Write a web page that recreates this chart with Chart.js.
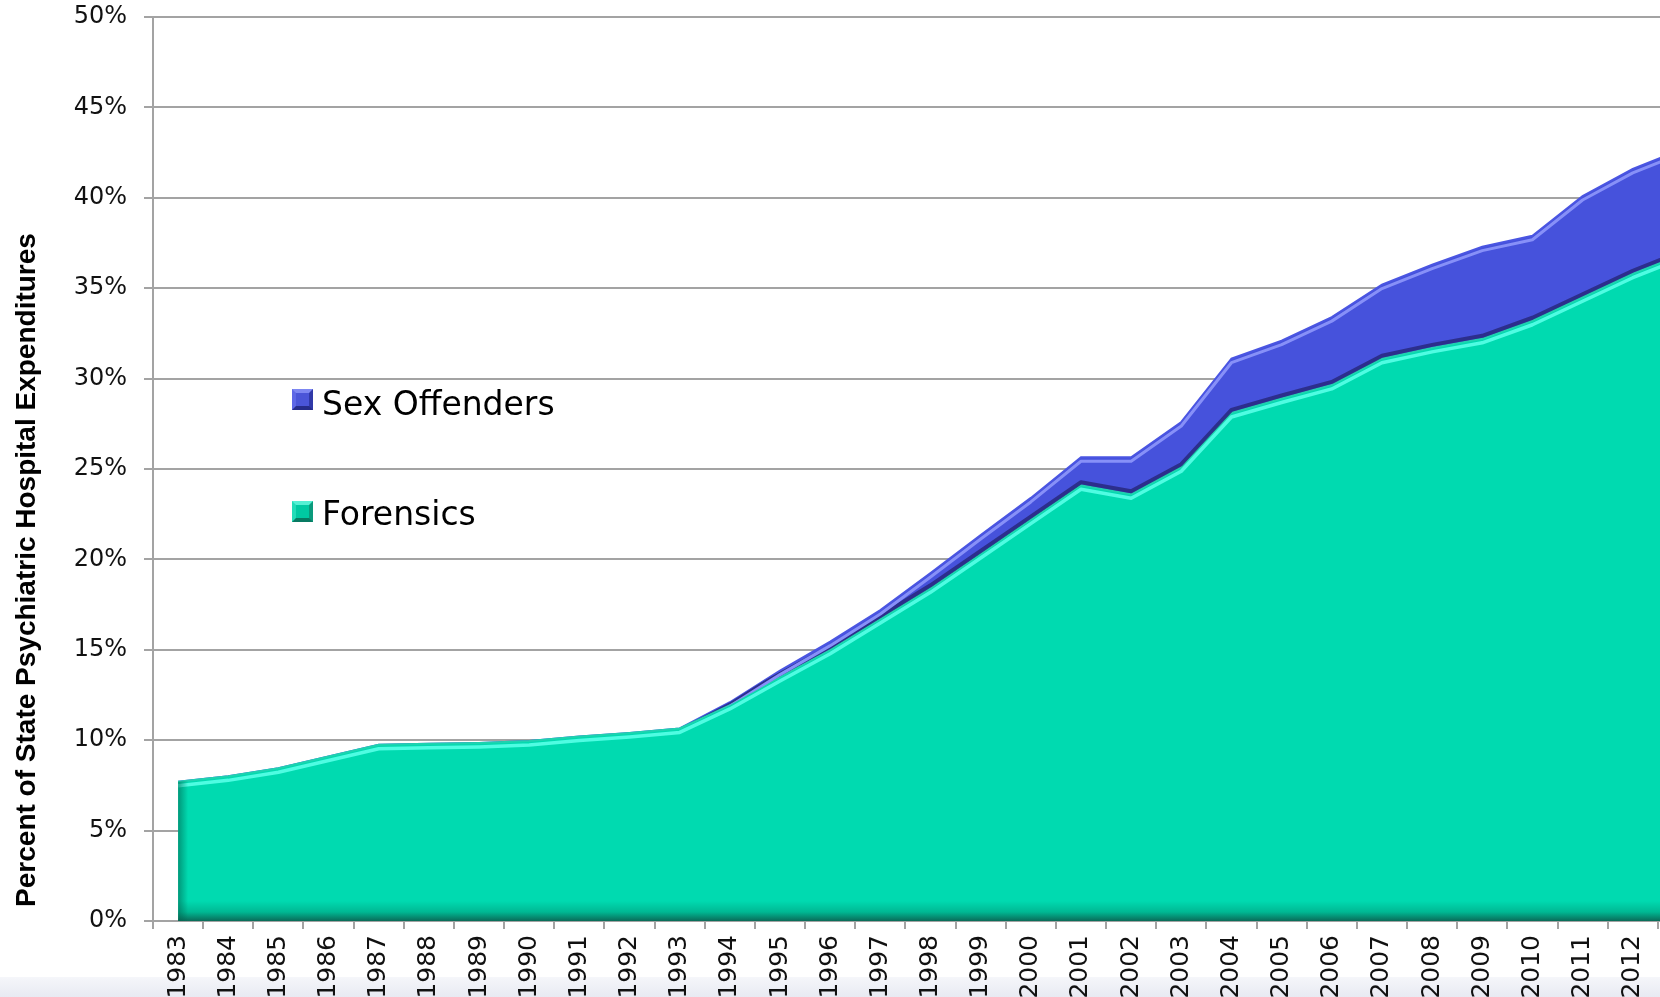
<!DOCTYPE html>
<html>
<head>
<meta charset="utf-8">
<script src="https://cdn.jsdelivr.net/npm/chart.js@4/dist/chart.umd.min.js"></script>
<style>
  html, body { margin: 0; padding: 0; background: #fff; overflow: hidden; width: 1660px; height: 997px; }
  #band { position: absolute; left: 0; top: 977px; width: 1660px; height: 20px;
          background: linear-gradient(#f5f6fa, #e8eaf2); }
  #wrap { position: absolute; left: 0; top: 0; width: 1708px; height: 997px; }
  .ytitle { position: absolute; left: -376px; top: 556px; width: 800px; height: 28px; line-height: 28px;
            text-align: center; font: bold 28px "Liberation Sans", Arial, sans-serif; color: #000;
            transform: rotate(-90deg); white-space: nowrap; }
  .leg { position: absolute; left: 292px; font: 33px "DejaVu Sans", Verdana, sans-serif; color: #000;
         line-height: 33px; white-space: nowrap; }
  .leg i { position: absolute; left: 0; width: 13px; height: 13px; border-style: solid; border-width: 4px; }
  .leg span { position: absolute; left: 30px; top: 0; }
</style>
</head>
<body>
<div id="band"></div>
<div id="wrap"><canvas id="myChart" width="1708" height="997"></canvas></div>
<div class="ytitle">Percent of State Psychiatric Hospital Expenditures</div>
<div class="leg" style="top:387px">
  <i style="top:2px; background:#4a55d8; border-color:#7d87f2 #3039a8 #262c8a #5d67e6"></i>
  <span>Sex Offenders</span>
</div>
<div class="leg" style="top:497px">
  <i style="top:4px; background:#00c9a2; border-color:#55f0d4 #0a9a7c #087a62 #22dcb8"></i>
  <span>Forensics</span>
</div>
<script>
const years = ["1983", "1984", "1985", "1986", "1987", "1988", "1989", "1990", "1991", "1992",
  "1993", "1994", "1995", "1996", "1997", "1998", "1999", "2000", "2001", "2002",
  "2003", "2004", "2005", "2006", "2007", "2008", "2009", "2010", "2011", "2012", "2013"];

// percent of expenditures, stacked: forensics at the bottom
const forensics = [7.7, 8.0, 8.45, 9.1, 9.75, 9.8, 9.85, 9.95, 10.2, 10.4,
  10.65, 11.95, 13.5, 15.0, 16.7, 18.4, 20.3, 22.2, 24.1, 23.6,
  25.1, 28.1, 28.9, 29.65, 31.1, 31.7, 32.2, 33.2, 34.5, 35.8, 36.9];
const sexOffenders = [0, 0, 0, 0, 0, 0, 0, 0, 0, 0,
  0, 0.15, 0.35, 0.45, 0.5, 0.85, 1.05, 1.2, 1.55, 2.05,
  2.5, 3.0, 3.2, 3.75, 4.1, 4.6, 5.1, 4.7, 5.6, 5.8, 5.8];

const yTicks = [0, 5, 10, 15, 20, 25, 30, 35, 40, 45, 50];

const gridGray = "#a3a3a3";

function tealFill(context) {
  const chart = context.chart;
  const area = chart.chartArea;
  if (!area) return "#00dab0";
  const g = chart.ctx.createLinearGradient(0, area.bottom - 20, 0, area.bottom);
  g.addColorStop(0, "#00dab0");
  g.addColorStop(0.55, "#00b893");
  g.addColorStop(1, "#0a6b58");
  return g;
}

// fake the office-style bevel: highlights and shadows along the area edges
const bevel = {
  id: "bevel",
  afterDatasetsDraw(chart) {
    const ctx = chart.ctx;
    const area = chart.chartArea;
    const low = chart.getDatasetMeta(0).data;
    const high = chart.getDatasetMeta(1).data;
    const yBase = chart.scales.y.getPixelForValue(0);

    function trace(pts, dy) {
      pts.forEach((p, i) => (i ? ctx.lineTo(p.x, p.y + dy) : ctx.moveTo(p.x, p.y + dy)));
    }

    ctx.save();
    ctx.beginPath();
    ctx.rect(area.left, area.top, area.width, area.height);
    ctx.clip();
    ctx.lineJoin = "round";

    // sex offenders band
    ctx.save();
    ctx.beginPath();
    trace(high, 0);
    for (let i = low.length - 1; i >= 0; i--) ctx.lineTo(low[i].x, low[i].y);
    ctx.closePath();
    ctx.clip();
    ctx.strokeStyle = "rgba(38,38,120,0.8)";
    ctx.lineWidth = 4;
    ctx.beginPath();
    trace(low, -3);
    ctx.stroke();
    ctx.strokeStyle = "#8790f8";
    ctx.lineWidth = 3;
    ctx.beginPath();
    trace(high, 4);
    ctx.stroke();
    ctx.restore();

    // forensics area
    ctx.save();
    ctx.beginPath();
    trace(low, 0);
    ctx.lineTo(low[low.length - 1].x, yBase);
    ctx.lineTo(low[0].x, yBase);
    ctx.closePath();
    ctx.clip();
    ctx.strokeStyle = "#4ffce2";
    ctx.lineWidth = 3.5;
    ctx.beginPath();
    trace(low, 4);
    ctx.stroke();
    const g = ctx.createLinearGradient(low[0].x, 0, low[0].x + 10, 0);
    g.addColorStop(0, "rgba(0,95,75,0.55)");
    g.addColorStop(1, "rgba(0,95,75,0)");
    ctx.fillStyle = g;
    ctx.fillRect(low[0].x, area.top, 10, area.height);
    ctx.restore();

    ctx.restore();
  },
};

new Chart(document.getElementById("myChart"), {
  type: "line",
  data: {
    labels: years,
    datasets: [
      {
        label: "Forensics",
        data: forensics,
        fill: "origin",
        backgroundColor: tealFill,
        borderColor: "#1fd2af",
        borderWidth: 2,
        pointRadius: 0,
        tension: 0,
      },
      {
        label: "Sex Offenders",
        data: sexOffenders,
        fill: "-1",
        backgroundColor: "#4652dc",
        borderColor: "#4a55e2",
        borderWidth: 2,
        pointRadius: 0,
        tension: 0,
      },
    ],
  },
  options: {
    responsive: false,
    animation: false,
    layout: { padding: { top: 17, left: 0, right: 0, bottom: 0 } },
    plugins: {
      legend: { display: false },
      tooltip: { enabled: false },
    },
    scales: {
      x: {
        offset: true,
        grid: { offset: true, drawOnChartArea: false, drawTicks: true, tickLength: 8, color: gridGray, lineWidth: 2 },
        border: { color: gridGray, width: 2 },
        ticks: {
          autoSkip: false,
          minRotation: 90,
          maxRotation: 90,
          padding: 6,
          color: "#111",
          font: { family: "DejaVu Sans", size: 25 },
        },
        afterFit: (s) => {
          s.height = 76;
          s.paddingLeft = 0;
          s.paddingRight = 0;
        },
      },
      y: {
        stacked: true,
        min: 0,
        max: 50,
        afterBuildTicks: (s) => { s.ticks = yTicks.map((v) => ({ value: v })); },
        grid: { color: gridGray, lineWidth: 2, tickLength: 9 },
        border: { color: gridGray, width: 2 },
        ticks: {
          padding: 17,
          color: "#111",
          font: { family: "DejaVu Sans", size: 24 },
          callback: (v) => v + "%",
        },
        afterFit: (s) => {
          s.width = 153;
          s.paddingTop = 0;
          s.paddingBottom = 0;
        },
      },
    },
  },
  plugins: [bevel],
});
</script>
</body>
</html>
